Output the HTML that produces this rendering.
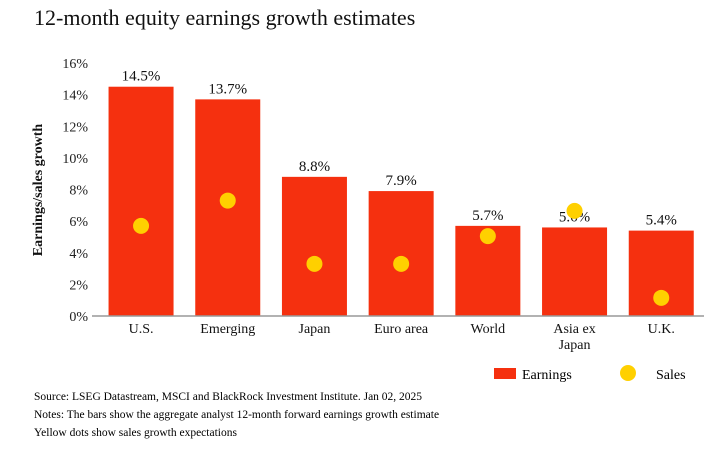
<!DOCTYPE html>
<html><head><meta charset="utf-8"><style>
body{margin:0;background:#fff;width:711px;height:446px;overflow:hidden;font-family:"Liberation Serif",serif}
</style></head><body>
<svg id="c" width="711" height="446" font-family="Liberation Serif, serif">
<text x="34" y="25" font-size="22" fill="#111">12-month equity earnings growth estimates</text>
<text transform="translate(42,190) rotate(-90)" text-anchor="middle" font-size="14" font-weight="bold" fill="#111">Earnings/sales growth</text>
<g id="plot"></g>
<rect x="494" y="368" width="22" height="11" fill="#f5300f"/>
<text x="522" y="379" font-size="14">Earnings</text>
<circle cx="628" cy="373" r="8" fill="#ffd000"/>
<text x="656" y="379" font-size="14">Sales</text>
<text x="34" y="400" font-size="11.5">Source: LSEG Datastream, MSCI and BlackRock Investment Institute. Jan 02, 2025</text>
<text x="34" y="418" font-size="11.5">Notes: The bars show the aggregate analyst 12-month forward  earnings growth estimate</text>
<text x="34" y="436" font-size="11.5">Yellow dots show sales growth expectations</text>
</svg>
<script>
const categories=[["U.S."],["Emerging"],["Japan"],["Euro area"],["World"],["Asia ex","Japan"],["U.K."]];
const earnings=[14.5,13.7,8.8,7.9,5.7,5.6,5.4];
const sales=[5.7,7.3,3.3,3.3,5.05,6.65,1.15];
const yTicks=[0,2,4,6,8,10,12,14,16];
const NS="http://www.w3.org/2000/svg";
const g=document.getElementById('plot');
const x0=97.7,step=86.7,y0=316,yTop=63,yMax=16;
const y=v=>y0-(v/yMax)*(y0-yTop);
const xc=i=>x0+step*(i+0.5);
function mk(t,a){const e=document.createElementNS(NS,t);for(const k in a)e.setAttribute(k,a[k]);g.appendChild(e);return e;}
yTicks.forEach(v=>{
const t=mk('text',{x:88,y:y(v)+5,'text-anchor':'end','font-size':14,fill:'#222'});
t.textContent=v+'%';


});
earnings.forEach((v,i)=>{
const r=mk('rect',{x:xc(i)-32.5,y:y(v),width:65,height:y0-y(v),fill:'#f5300f'});


const t=mk('text',{x:xc(i),y:y(v)-6,'text-anchor':'middle','font-size':15,fill:'#111'});
t.textContent=v.toFixed(1)+'%';


categories[i].forEach((s,j)=>{
const c=mk('text',{x:xc(i),y:333+j*16,'text-anchor':'middle','font-size':14,fill:'#111'});
c.textContent=s;


});
});
const ax=mk('line',{x1:92,x2:704,y1:y0,y2:y0,stroke:'#999','stroke-width':1.5});


sales.forEach((v,i)=>{
const c=mk('circle',{cx:xc(i),cy:y(v),r:8,fill:'#ffd000'});


});
</script>
</body></html>
